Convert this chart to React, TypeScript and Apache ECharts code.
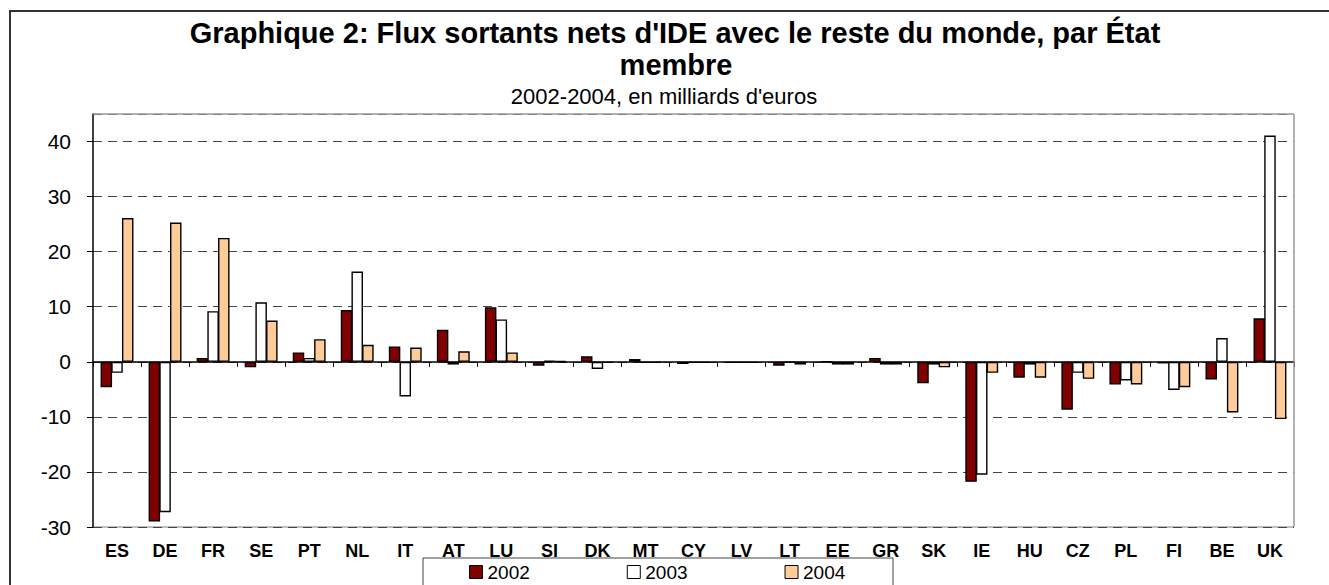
import React, { useEffect, useRef } from "react";
import * as echarts from "echarts";

const categories = ["ES","DE","FR","SE","PT","NL","IT","AT","LU","SI","DK","MT","CY","LV","LT","EE","GR","SK","IE","HU","CZ","PL","FI","BE","UK"];
const values2002 = [-4.6,-29.0,0.7,-1.0,1.7,9.4,2.8,5.8,9.9,-0.7,1.0,0.5,-0.4,-0.2,-0.7,0.0,0.7,-3.9,-21.8,-2.9,-8.7,-4.1,-0.3,-3.2,7.9];
const values2003 = [-2.0,-27.3,9.2,10.8,0.7,16.4,-6.3,-0.5,7.7,0.2,-1.3,-0.2,-0.2,-0.2,-0.1,-0.5,-0.5,-0.5,-20.5,-0.5,-2.0,-3.4,-5.1,4.3,41.1];
const values2004 = [26.1,25.3,22.5,7.5,4.1,3.1,2.6,1.9,1.7,0.1,-0.2,-0.2,-0.2,-0.2,-0.5,-0.5,-0.5,-1.0,-2.0,-2.9,-3.1,-4.1,-4.6,-9.2,-10.4];
const seriesNames = ["2002", "2003", "2004"];
const titleLine1 = "Graphique 2: Flux sortants nets d'IDE avec le reste du monde, par État";
const titleLine2 = "membre";
const subtitle = "2002-2004, en milliards d'euros";

const FONT = "'Liberation Sans', Arial, Helvetica, sans-serif";

export default function App() {
  const ref = useRef<HTMLDivElement>(null);
  useEffect(() => {
    if (!ref.current) return;
    const chart = echarts.init(ref.current, null, { renderer: "svg" });
    const colors = ["#800000", "#FFFFFF", "#FFCC99"];
    const data = [values2002, values2003, values2004];
    const gl = 93, gt = 114, gr = 1294, gb = 527;
    chart.setOption({
      animation: false,
      backgroundColor: "#fff",
      textStyle: { fontFamily: FONT },
      grid: { left: gl, top: gt, right: 1329 - gr, bottom: 585 - gb, containLabel: false },
      legend: {
        data: seriesNames,
        left: 469,
        top: 562,
        padding: 0,
        itemWidth: 13,
        itemHeight: 13,
        itemGap: 97,
        icon: "rect",
        itemStyle: { borderColor: "#000", borderWidth: 1 },
        textStyle: { fontSize: 19, color: "#000", fontFamily: FONT, lineHeight: 20 },
      },
      xAxis: [
        {
          type: "category",
          data: categories,
          position: "bottom",
          axisLine: { show: false, onZero: false },
          axisTick: { show: false },
          axisLabel: { interval: 0, fontSize: 18, fontWeight: "bold", color: "#000", margin: 15, fontFamily: FONT },
          splitLine: { show: false },
        },
        {
          type: "category",
          data: categories,
          position: "bottom",
          axisLine: { show: true, onZero: true, lineStyle: { color: "#000", width: 1.5 } },
          axisTick: { show: true, interval: 0, length: 5, lineStyle: { color: "#000", width: 1 } },
          axisLabel: { show: false },
          splitLine: { show: false },
        },
      ],
      yAxis: {
        type: "value",
        min: -30,
        max: 45,
        interval: 10,
        axisLine: { show: true, lineStyle: { color: "#000", width: 1.5 } },
        axisTick: { show: true, length: 6, lineStyle: { color: "#000", width: 1 } },
        axisLabel: { fontSize: 21, color: "#000", margin: 22, showMaxLabel: false, fontFamily: FONT },
        splitLine: { show: true, lineStyle: { color: "#444", width: 1, type: [9, 6] } },
      },
      series: seriesNames.map((name, i) => ({
        name,
        type: "bar",
        xAxisIndex: 0,
        data: data[i],
        barWidth: 11.5,
        barGap: "-7%",
        itemStyle: { color: colors[i], borderColor: "#000", borderWidth: 1.4 },
      })),
      graphic: [
        { type: "rect", shape: { x: 10, y: 11, width: 1400, height: 700 }, style: { fill: "none", stroke: "#333", lineWidth: 2 }, silent: true, z: 0 },
        { type: "line", shape: { x1: gl, y1: gt, x2: gr, y2: gt }, style: { stroke: "#999", lineWidth: 1.5 }, silent: true, z: 10 },
        { type: "line", shape: { x1: gr, y1: gt, x2: gr, y2: gb }, style: { stroke: "#999", lineWidth: 1.5 }, silent: true, z: 10 },
        { type: "line", shape: { x1: gl, y1: gb, x2: gr, y2: gb }, style: { stroke: "#aaa", lineWidth: 1.5 }, silent: true, z: -1 },
        { type: "rect", shape: { x: 423, y: 558, width: 470, height: 60 }, style: { fill: "none", stroke: "#444", lineWidth: 1 }, silent: true, z: 0 },
        { type: "text", x: 675, y: 33, style: { text: titleLine1, fontSize: 29, fontWeight: "bold", fontFamily: FONT, fill: "#000", align: "center", verticalAlign: "middle", textAlign: "center", textVerticalAlign: "middle" } },
        { type: "text", x: 676, y: 65, style: { text: titleLine2, fontSize: 29, fontWeight: "bold", fontFamily: FONT, fill: "#000", align: "center", verticalAlign: "middle", textAlign: "center", textVerticalAlign: "middle" } },
        { type: "text", x: 664, y: 96, style: { text: subtitle, fontSize: 22, fontFamily: FONT, fill: "#000", align: "center", verticalAlign: "middle", textAlign: "center", textVerticalAlign: "middle" } },
      ],
    });
    return () => chart.dispose();
  }, []);
  return (
    <div
      ref={ref}
      style={{ position: "absolute", left: 0, top: 0, width: 1329, height: 585, background: "#fff" }}
    />
  );
}
